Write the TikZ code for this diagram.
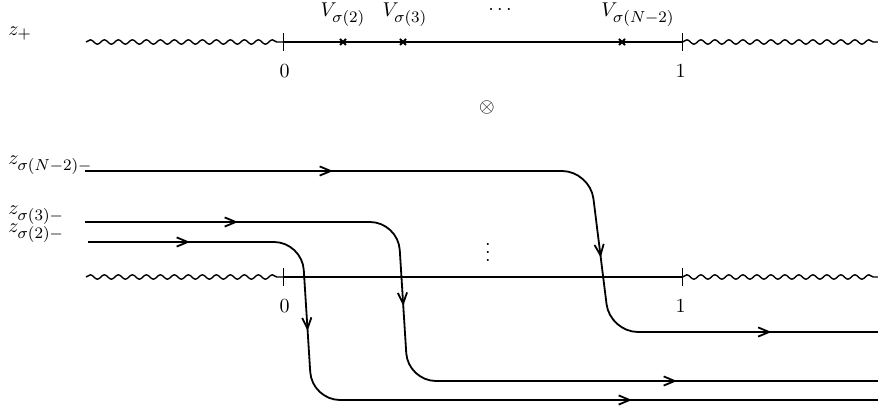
\documentclass[tikz,border=0pt]{standalone}
\usetikzlibrary{decorations.pathmorphing,decorations.markings,arrows.meta}
\DeclareMathSizes{10}{10}{8}{6}
\tikzset{
  wavy/.style={decorate,decoration={snake,segment length=7pt,amplitude=1.1pt}},
  flow/.style n args={3}{postaction={decorate},decoration={markings,
      mark=at position #1 with {\arrow{>}},
      mark=at position #2 with {\arrow{>}},
      mark=at position #3 with {\arrow{>}}}}
}
\begin{document}
\begin{tikzpicture}[x=0.5pt, y=0.5pt, line join=round,
		>={Straight Barb[length=5.5pt,width=4.6pt]}]
	\useasboundingbox (0,0) rectangle (878,406);
	\def\xa{283.5} \def\xb{682.5} \def\yt{364} \def\yb{129}
	% the two copies of the real line
	\foreach \y/\n in {\yt/t,\yb/b}{
		\draw[wavy,line width=0.7pt] (86,\y)--(\xa,\y);
		\draw[line width=0.7pt] (\xa,\y)--(\xb,\y);
		\draw[wavy,line width=0.7pt] (\xb,\y)--(878,\y);
		\draw[line width=0.8pt] (\xa,\y-9)--(\xa,\y+9) (\xb,\y-9)--(\xb,\y+9);
		\node (zero\n) at (\xa+1,\y-29) {$0$};
		\node (one\n) at (\xb-2,\y-29) {$1$};}
	\foreach \x in {343,403,622}{
		\draw[line width=1pt] (\x-3,\yt-3)--(\x+3,\yt+3) (\x-3,\yt+3)--(\x+3,\yt-3);}
	\node[anchor=base] (vtwo) at (343,389) {$V_{\sigma(2)}$};
	\node[anchor=base] (vthree) at (405,389) {$V_{\sigma(3)}$};
	\node[anchor=base] (vlast) at (638,389) {$V_{\sigma(N-2)}$};
	\node[anchor=base] (hdots) at (500,391) {$\cdots$};
	\node[anchor=base west,inner sep=0] (zplus) at (8,370) {$z_+$};
	\node (prod) at (487,298) {$\otimes$};
	\node (vdots) at (488,160) {$\vdots$};
	% contours of the lower line
	\node[anchor=base west,inner sep=0] (zlast) at (8,241) {$z_{\sigma(N-2)-}$};
	\node[anchor=base west,inner sep=0] (zthree) at (8,191) {$z_{\sigma(3)-}$};
	\node[anchor=base west,inner sep=0] (ztwo) at (8,173) {$z_{\sigma(2)-}$};
	\begin{scope}[line width=0.9pt, rounded corners=14pt]
		\draw[flow={124pt}{291pt}{404pt}] (85,235)--(590,235)--(610,74)--(878,74);
		\draw[flow={76.5pt}{193pt}{359.5pt}] (85,184)--(398,184)--(408,25)--(878,25);
		\draw[flow={51pt}{146pt}{335pt}] (88,164)--(302,164)--(312,6)--(878,6);
	\end{scope}
\end{tikzpicture}
\end{document}
